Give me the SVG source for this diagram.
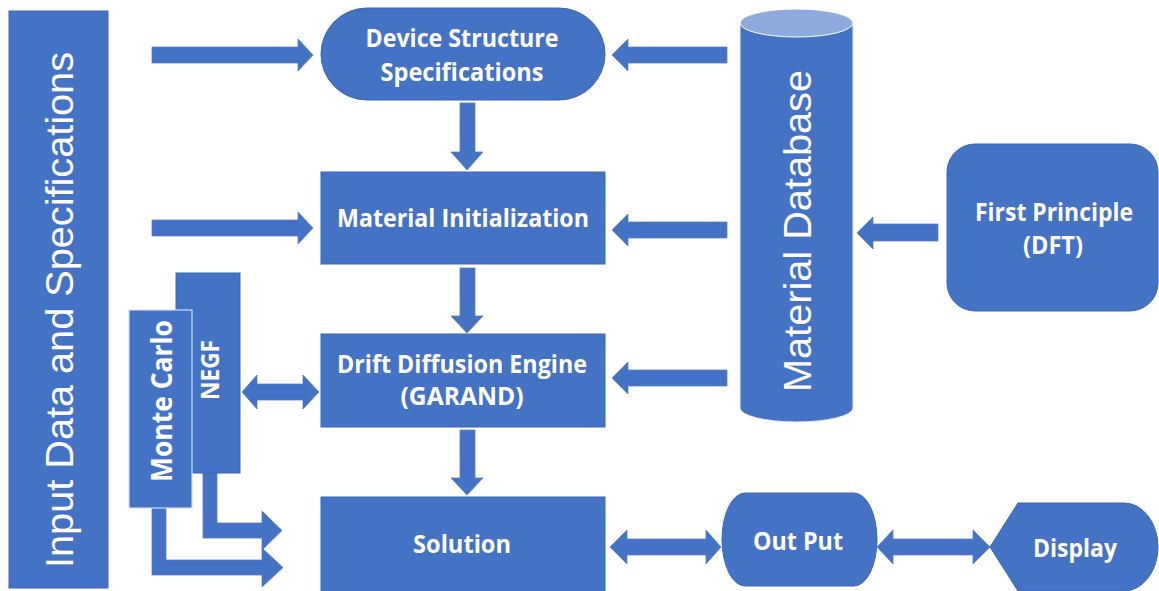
<svg xmlns="http://www.w3.org/2000/svg" width="1159" height="591" viewBox="0 0 1159 591">
<style>
.box{fill:#4472C4;stroke:#3b66b3;stroke-width:1}
.arr{fill:#4472C4;stroke:#5a7ec6;stroke-width:0.8}
.lbl{font-family:"Open Sans","Liberation Sans",sans-serif;font-weight:700;font-size:25px;fill:#ffffff;text-anchor:middle}
.big{font-family:"Liberation Sans",Arial,sans-serif;font-size:39px;fill:#ffffff;text-anchor:middle}
</style>
<rect width="1159" height="591" fill="#ffffff"/>

<g id="connectors">
  <!-- Input -> Device Structure -->
  <path class="arr" d="M152,47 H298 V39 L313,55 L298,71 V63 H152 Z"/>
  <!-- Input -> Material Initialization -->
  <path class="arr" d="M152,220 H298 V212 L313,228 L298,244 V236 H152 Z"/>
  <!-- Database -> Device Structure -->
  <path class="arr" d="M727,47 H628 V39 L612,55 L628,71 V63 H727 Z"/>
  <!-- Database -> Material Initialization -->
  <path class="arr" d="M727,222 H628 V214 L612,230 L628,246 V238 H727 Z"/>
  <!-- Database -> Drift Diffusion -->
  <path class="arr" d="M727,370 H628 V362 L612,378 L628,394 V386 H727 Z"/>
  <!-- First Principle -> Database -->
  <path class="arr" d="M938,224 H873 V217 L857,233 L873,249 V241 H938 Z"/>
  <!-- down arrows -->
  <path class="arr" d="M460,103 H475 V152 H483 L467,170 L451,152 H460 Z"/>
  <path class="arr" d="M460,268 H475 V316 H483 L467,333 L451,316 H460 Z"/>
  <path class="arr" d="M460,430 H475 V478 H483 L467,495 L451,478 H460 Z"/>
  <!-- NEGF <-> Drift Diffusion -->
  <path class="arr" d="M242,392 L257,375 V384 H303 V375 L319,392 L303,409 V400 H257 V409 Z"/>
  <!-- Solution <-> Out Put -->
  <path class="arr" d="M610,547 L627,530 V539 H706 V530 L721,547 L706,564 V555 H627 V564 Z"/>
  <!-- Out Put <-> Display -->
  <path class="arr" d="M877,547 L893,530 V539 H973 V530 L990,547 L973,564 V555 H893 V564 Z"/>
  <!-- NEGF -> Solution (bent) -->
  <path class="arr" d="M203,473 H217 V523 H262 V511 L282,530.5 L262,550 V538 H203 Z"/>
  <!-- Monte Carlo -> Solution (bent) -->
  <path class="arr" d="M152,508 H166 V560 H262 V548 L283,567.5 L262,587 V575 H152 Z"/>
</g>

<g id="input">
  <rect class="box" x="9" y="11" width="99" height="577"/>
  <text class="big" transform="translate(73,310) rotate(-90)" textLength="516" lengthAdjust="spacingAndGlyphs">Input Data and Specifications</text>
</g>

<g id="device-structure">
  <rect class="box" x="321" y="8" width="284" height="92" rx="46" ry="46"/>
  <text class="lbl" x="462" y="47" textLength="193" lengthAdjust="spacingAndGlyphs">Device Structure</text>
  <text class="lbl" x="462" y="81" textLength="163" lengthAdjust="spacingAndGlyphs">Specifications</text>
</g>

<g id="material-initialization">
  <rect class="box" x="321" y="172" width="284" height="92"/>
  <text class="lbl" x="463" y="227" textLength="252" lengthAdjust="spacingAndGlyphs">Material Initialization</text>
</g>

<g id="drift-diffusion">
  <rect class="box" x="321" y="334" width="284" height="93"/>
  <text class="lbl" x="462" y="373" textLength="250" lengthAdjust="spacingAndGlyphs">Drift Diffusion Engine</text>
  <text class="lbl" x="462" y="405" textLength="123" lengthAdjust="spacingAndGlyphs">(GARAND)</text>
</g>

<g id="solution">
  <rect class="box" x="321" y="497" width="284" height="100"/>
  <text class="lbl" x="462" y="553" textLength="98" lengthAdjust="spacingAndGlyphs">Solution</text>
</g>

<g id="material-database">
  <path d="M740,23 V408 A56.5,14 0 0 0 853,408 V23 Z" fill="#4472C4" stroke="#e8eef8" stroke-width="1"/>
  <ellipse cx="796.5" cy="23" rx="56.5" ry="14" fill="#8FAADC" stroke="#ffffff" stroke-width="1"/>
  <text class="big" transform="translate(811,231) rotate(-90)" textLength="322" lengthAdjust="spacingAndGlyphs">Material Database</text>
</g>

<g id="first-principle">
  <rect class="box" x="947" y="144" width="211" height="167" rx="28" ry="28"/>
  <text class="lbl" x="1054" y="221" textLength="158" lengthAdjust="spacingAndGlyphs">First Principle</text>
  <text class="lbl" x="1053" y="254" textLength="60" lengthAdjust="spacingAndGlyphs">(DFT)</text>
</g>

<g id="negf">
  <rect class="box" x="176" y="273" width="64" height="200"/>
  <text class="lbl" transform="translate(219,370) rotate(-90)" textLength="60" lengthAdjust="spacingAndGlyphs">NEGF</text>
</g>

<g id="monte-carlo">
  <rect x="129" y="310" width="63" height="198" fill="#4472C4" stroke="#d3dbec" stroke-width="1.2"/>
  <text class="lbl" style="font-size:28px" transform="translate(172,401) rotate(-90)" textLength="162" lengthAdjust="spacingAndGlyphs">Monte Carlo</text>
</g>

<g id="out-put">
  <path class="box" d="M745,493 H854 A23,46.5 0 0 1 854,586 H745 A23,46.5 0 0 1 745,493 Z"/>
  <text class="lbl" x="798" y="550" textLength="90" lengthAdjust="spacingAndGlyphs">Out Put</text>
</g>

<g id="display">
  <path class="box" d="M990,547 L1018,503 H1124 A34,44 0 0 1 1124,591 H1018 Z"/>
  <text class="lbl" x="1075" y="557" textLength="84" lengthAdjust="spacingAndGlyphs">Display</text>
</g>
</svg>
